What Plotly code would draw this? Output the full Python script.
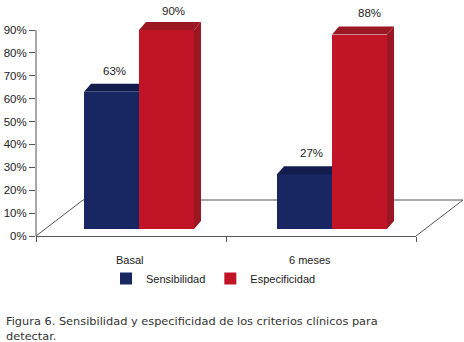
import plotly.graph_objects as go

categories = ["Basal", "6 meses"]
series_names = ["Sensibilidad", "Especificidad"]
sensibilidad = [63, 27]
especificidad = [90, 88]
y_ticks = [0, 10, 20, 30, 40, 50, 60, 70, 80, 90]
caption = ["Figura 6. Sensibilidad y especificidad de los criterios clínicos para", "detectar."]

# layout in pixels
W, H = 464, 342
L, R, T, B = 36, 48, 14, 106
PW, PH = W - L - R, H - T - B
PX = PW / 2            # px per category
PY = 206 / 90          # px per %
YTOP = PH / PY         # axis reaches above 90 so the 3D tops are not clipped
BASE = 3.05            # bars stand slightly in front of the floor edge
DX, DY = 7 / PX, 8 / PY  # 3D depth
BLUE, BLUE_D = "#182661", "#121d4e"
RED, RED_D = "#c11427", "#9c1724"
AXIS = "#555555"
TXT = "#222222"
FONT = "Liberation Sans"

blue_off = [-47 / PX, -44 / PX]
red_off = [8 / PX, 11 / PX]
bar_w = 55 / PX

fig = go.Figure()
xs = list(range(len(categories)))
fig.add_bar(x=xs, y=[v - BASE for v in sensibilidad], base=BASE, offset=blue_off, width=bar_w,
            marker=dict(color=BLUE, line_width=0), name=series_names[0], cliponaxis=False, hoverinfo="skip")
fig.add_bar(x=xs, y=[v - BASE for v in especificidad], base=BASE, offset=red_off, width=bar_w,
            marker=dict(color=RED, line_width=0), name=series_names[1], cliponaxis=False, hoverinfo="skip")

def poly(px, py, color):
    fig.add_scatter(x=px, y=py, mode="lines", fill="toself", fillcolor=color, line=dict(width=0, color=color),
                    showlegend=False, cliponaxis=False, hoverinfo="skip")

for i in xs:
    # blue top (right part hidden by the red bar)
    x0 = i + blue_off[i]; x1 = x0 + bar_w; v = sensibilidad[i]
    poly([x0, x0 + DX, x1, x1, x0], [v, v + DY, v + DY, v, v], BLUE_D)
    # red top and side
    x0 = i + red_off[i]; x1 = x0 + bar_w; v = especificidad[i]
    poly([x0, x0 + DX, x1 + DX, x1, x0], [v, v + DY, v + DY, v, v], RED_D)
    poly([x1, x1 + DX, x1 + DX, x1, x1], [v, v + DY, BASE + DY, BASE, v], RED_D)

# floor drawn in paper fractions, below the bars
def fx(p): return (p - L) / PW
def fy(p): return (T + PH - p) / PH
shapes = []
for (a, b, c, d) in [(36, 236, 83, 200), (83, 200, 463, 200), (463, 200, 416, 236), (36, 236, 36, 30)]:
    shapes.append(dict(type="line", xref="paper", yref="paper", x0=fx(a), y0=fy(b), x1=fx(c), y1=fy(d),
                       line=dict(color=AXIS, width=1), layer="below"))

ann = []
shifts = [[3, 7], [7, 10]]
yshifts = [[21, 19], [21, 22]]
for i in xs:
    for j, vals in enumerate([sensibilidad, especificidad]):
        off = (blue_off if j == 0 else red_off)[i] + bar_w / 2
        ann.append(dict(x=i + off, y=vals[i], text=f"{vals[i]}%", showarrow=False, xref="x", yref="y",
                        xshift=shifts[i][j], yshift=yshifts[i][j], font=dict(family=FONT, size=11.5, color=TXT)))
    ann.append(dict(x=i, y=0, text=categories[i], showarrow=False, xref="x", yref="y", yanchor="middle",
                    xshift=-1 if i == 0 else -11, yshift=-24, font=dict(family=FONT, size=11, color=TXT)))
for k, line in enumerate(caption):
    ann.append(dict(x=fx(4), y=fy(321 + 15 * k), xref="paper", yref="paper", text=line, showarrow=False,
                    xanchor="left", yanchor="middle", font=dict(family="DejaVu Sans", size=11.35, color="#333333")))

fig.update_layout(
    template="none",
    width=W, height=H, autosize=False,
    margin=dict(l=L, r=R, t=T, b=B, pad=0, autoexpand=False),
    paper_bgcolor="white", plot_bgcolor="white",
    barmode="overlay", bargap=0,
    shapes=shapes, annotations=ann,
    showlegend=True,
    legend=dict(orientation="h", xref="container", yref="container", x=106 / W, y=1 - 264 / H, xanchor="left", yanchor="top",
                traceorder="normal",
                font=dict(family=FONT, size=11, color=TXT), bgcolor="rgba(0,0,0,0)"),
    xaxis=dict(range=[-0.5, 1.5], tickmode="array", tickvals=[-0.5, 0.5, 1.5], ticktext=["", "", ""],
               ticks="outside", ticklen=5, tickcolor=AXIS, showline=True, linecolor=AXIS, linewidth=1,
               showgrid=False, zeroline=False, fixedrange=True, automargin=False),
    yaxis=dict(range=[0, YTOP], tickmode="array", tickvals=y_ticks, ticktext=[f"{t}%" for t in y_ticks],
               ticks="outside", ticklen=6, tickcolor=AXIS, showline=False,
               showgrid=False, zeroline=False, fixedrange=True, automargin=False,
               tickfont=dict(family=FONT, size=11.5, color=TXT)),
)
fig.write_html("out.html", config=dict(displayModeBar=False),
               post_script="document.body.style.margin='0';document.body.style.overflow='hidden';")
